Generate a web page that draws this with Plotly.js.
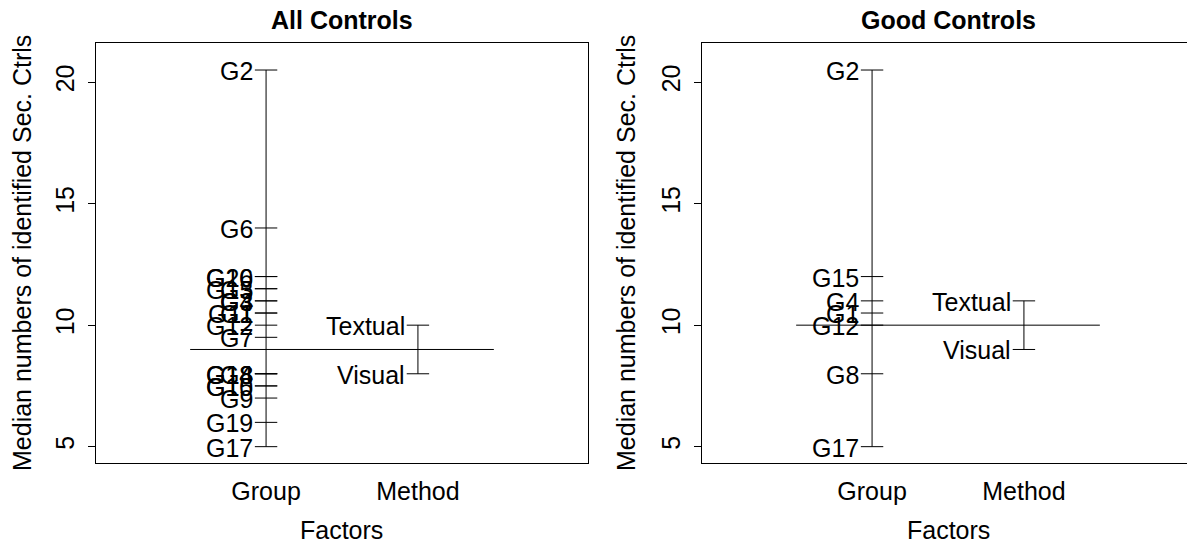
<!DOCTYPE html>
<html>
<head>
<meta charset="utf-8">
<script src="https://cdn.plot.ly/plotly-3.0.1.min.js"></script>
<style>html,body{margin:0;padding:0;overflow:hidden;background:#fff;}#plot{width:1200px;height:547px;}</style>
</head>
<body>
<div id="plot"></div>
<script>
// ---- data ----
const factorNames = ["Group", "Method"];
const allGroupLevels = ["G2","G6","G20","G16","G5","G13","G3","G4","G11","G1","G12","G7","G14","G18","G8","G10","G15","G9","G19","G17"];
const allGroupValues = [20.5,14,12,12,11.5,11.5,11,11,10.5,10.5,10,9.5,8,8,8,7.5,7.5,7,6,5];
const allMethodLevels = ["Textual","Visual"];
const allMethodValues = [10,8];
const allGrand = 9;

const goodGroupLevels = ["G2","G15","G4","G1","G12","G8","G17"];
const goodGroupValues = [20.5,12,11,10.5,10,8,5];
const goodMethodLevels = ["Textual","Visual"];
const goodMethodValues = [11,9];
const goodGrand = 10;

const panelTitles = ["All Controls", "Good Controls"];
const yTitle = "Median numbers of identified Sec. Ctrls";
const xTitle = "Factors";
const yTickVals = [5,10,15,20];

// ---- build ----
const FONT = "Liberation Sans, Arial, Helvetica, sans-serif";
const FS = 25;
const ann = [];
function panelTraces(gL, gV, mL, mV, grand, xa, ya) {
  const out = [];
  const facs = [[gL, gV, 1], [mL, mV, 2]];
  facs.forEach(([L, V, xpos]) => {
    out.push({type:"scatter", mode:"lines", x:[xpos,xpos], y:[Math.min(...V), Math.max(...V)],
      line:{color:"#000", width:1}, xaxis:xa, yaxis:ya, hoverinfo:"skip", showlegend:false});
    out.push({type:"scatter", mode:"markers", x:V.map(()=>xpos), y:V,
      marker:{symbol:"line-ew", size:16, line:{color:"#000", width:1}},
      xaxis:xa, yaxis:ya, hoverinfo:"skip", showlegend:false, cliponaxis:false});
    L.forEach((lab, i) => {
      ann.push({xref:xa, yref:ya, x:xpos, y:V[i], text:lab, showarrow:false, xanchor:"right", yanchor:"middle",
        xshift:-11, yshift:-1, font:{family:FONT, size:FS, color:"#000"}});
    });
  });
  out.push({type:"scatter", mode:"lines", x:[0.5,2.5], y:[grand,grand],
    line:{color:"#000", width:1}, xaxis:xa, yaxis:ya, hoverinfo:"skip", showlegend:false});
  return out;
}
const traces = [
  ...panelTraces(allGroupLevels, allGroupValues, allMethodLevels, allMethodValues, allGrand, "x", "y"),
  ...panelTraces(goodGroupLevels, goodGroupValues, goodMethodLevels, goodMethodValues, goodGrand, "x2", "y2")
];
const W = 1200, H = 547;
const yDom = [(H-462.7)/H, (H-43.3)/H];
function xax(d) {
  return {domain:d, range:[-0.12,3.12], showgrid:false, zeroline:false, showline:true, mirror:true,
    linecolor:"#000", linewidth:1, tickmode:"array", tickvals:[1,2], ticktext:factorNames, ticks:"",
    tickfont:{family:FONT, size:FS, color:"#000"}, ticklabelstandoff:6, fixedrange:true};
}
function yax(anchor) {
  return {domain:yDom, anchor:anchor, range:[4.34,21.6], showgrid:false, zeroline:false, showline:true, mirror:true,
    linecolor:"#000", linewidth:1, tickmode:"array", tickvals:yTickVals, ticks:"outside", ticklen:7,
    tickcolor:"#000", tickangle:-90, tickfont:{family:FONT, size:FS, color:"#000"}, ticklabelstandoff:4, fixedrange:true};
}
const d1 = [96/W, 588/W], d2 = [702/W, 1194/W];
[[d1, panelTitles[0], 22], [d2, panelTitles[1], 626]].forEach(([d, t, yx]) => {
  const cx = (d[0]+d[1])/2;
  ann.push({xref:"paper", yref:"paper", x:cx, y:(H-20)/H, text:"<b>"+t+"</b>", showarrow:false,
    font:{family:FONT, size:FS, color:"#000"}, xanchor:"center", yanchor:"middle"});
  ann.push({xref:"paper", yref:"paper", x:cx, y:(H-530)/H, text:xTitle, showarrow:false,
    font:{family:FONT, size:FS, color:"#000"}, xanchor:"center", yanchor:"middle"});
  ann.push({xref:"paper", yref:"paper", x:yx/W, y:(yDom[0]+yDom[1])/2, text:yTitle, textangle:-90, showarrow:false,
    font:{family:FONT, size:FS, color:"#000"}, xanchor:"center", yanchor:"middle"});
});
const layout = {
  width:W, height:H, margin:{l:0,r:0,t:0,b:0}, paper_bgcolor:"#fff", plot_bgcolor:"#fff",
  showlegend:false, xaxis:xax(d1), yaxis:yax("x"), xaxis2:xax(d2), yaxis2:yax("x2"),
  annotations:ann, font:{family:FONT}
};
Plotly.newPlot("plot", traces, layout, {staticPlot:true, displayModeBar:false});
</script>
</body>
</html>
